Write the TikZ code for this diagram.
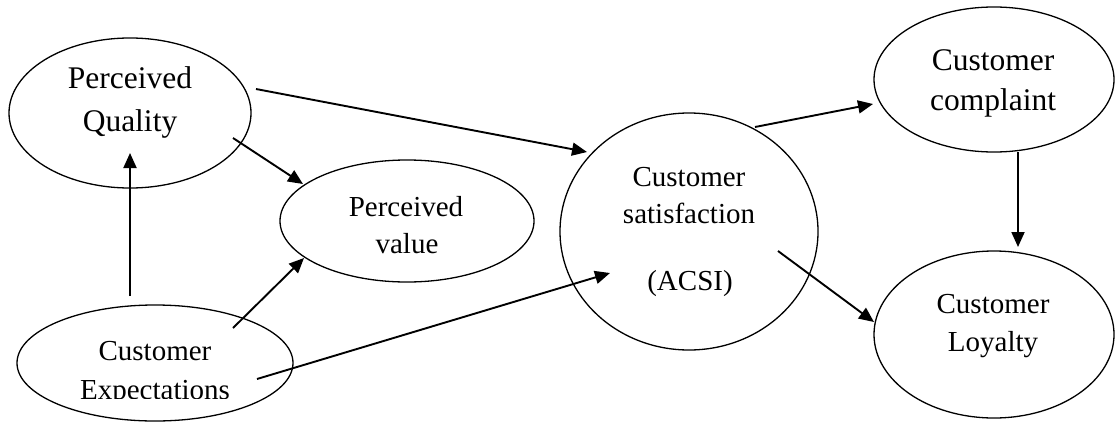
\documentclass[tikz,border=0pt]{standalone}
\usepackage{fontspec}
\setmainfont{Liberation Serif}
\usetikzlibrary{shapes.geometric,arrows.meta}
\begin{document}
\begin{tikzpicture}[x=1pt,y=-1pt,
  oval/.style={draw=black,line width=1.3pt,ellipse,inner sep=0pt},
  txt/.style={anchor=base,inner sep=0pt,font=\fontsize{29}{34}\selectfont},
  bigtxt/.style={anchor=base,inner sep=0pt,font=\fontsize{31.5}{37}\selectfont},
  arr/.style={line width=1.9pt,-{Triangle[length=15pt,width=13pt]}}]
\useasboundingbox (0,0) rectangle (1115,423);
% ellipses
\node[oval,minimum width=242pt,minimum height=150pt] (pq) at (130,113) {};
\node[oval,minimum width=254pt,minimum height=122pt] (pv) at (407,221) {};
\node[oval,minimum width=276pt,minimum height=116pt] (ce) at (155,363) {};
\node[oval,minimum width=258pt,minimum height=237pt] (cs) at (689,231.5) {};
\node[oval,minimum width=240pt,minimum height=145pt] (cc) at (994,79.5) {};
\node[oval,minimum width=240pt,minimum height=167pt] (cl) at (994,334.5) {};
% texts
\node[bigtxt] (pq1) at (130,88) {Perceived};
\node[bigtxt] (pq2) at (130,131) {Quality};
\node[txt] (pv1) at (406,216) {Perceived};
\begin{scope}
\clip (0,0) rectangle (1115,254);
\node[txt] (pv2) at (407,253) {value};
\end{scope}
\node[txt] (ce1) at (155,360) {Customer};
\begin{scope}
\clip (0,0) rectangle (1115,398);
\node[txt] (ce2) at (155,399) {Expectations};
\end{scope}
\node[txt] (cs1) at (689,186) {Customer};
\node[txt] (cs2) at (689,223) {satisfaction};
\node[txt] (cs3) at (690,290) {(ACSI)};
\node[bigtxt] (cc1) at (993,70) {Customer};
\node[bigtxt] (cc2) at (993,110) {complaint};
\node[txt] (cl1) at (993,313) {Customer};
\node[txt] (cl2) at (993,351) {Loyalty};
% connector end points
\coordinate (a1s) at (256,89);   \coordinate (a1e) at (587,152);
\coordinate (a2s) at (233,138);  \coordinate (a2e) at (303,184);
\coordinate (a3s) at (130,296);  \coordinate (a3e) at (130,153);
\coordinate (a4s) at (233,328);  \coordinate (a4e) at (304,258);
\coordinate (a5s) at (257,379);  \coordinate (a5e) at (610,273);
\coordinate (a6s) at (755,127);  \coordinate (a6e) at (873,104);
\coordinate (a7s) at (1018,152); \coordinate (a7e) at (1018,247);
\coordinate (a8s) at (778,251);  \coordinate (a8e) at (874,322);
% connectors
\draw[arr] (a1s) -- (a1e);
\draw[arr] (a2s) -- (a2e);
\draw[arr] (a3s) -- (a3e);
\draw[arr] (a4s) -- (a4e);
\draw[arr] (a5s) -- (a5e);
\draw[arr] (a6s) -- (a6e);
\draw[arr] (a7s) -- (a7e);
\draw[arr] (a8s) -- (a8e);
\end{tikzpicture}
\end{document}
